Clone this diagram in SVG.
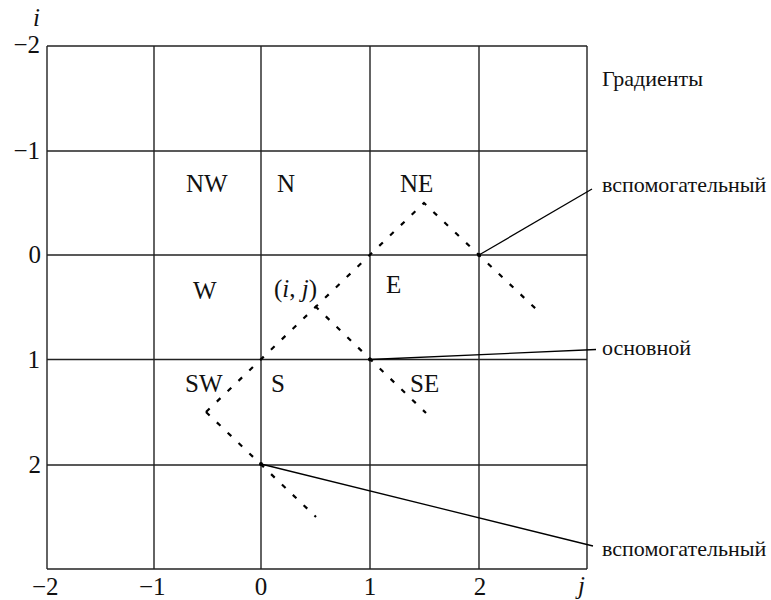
<svg xmlns="http://www.w3.org/2000/svg" width="771" height="600" viewBox="0 0 771 600">
<style>
text { font-family: "Liberation Serif", "Times New Roman", serif; fill: #111; }
.lbl { font-size: 25px; }
.ax { font-size: 25px; }
.ru { font-size: 22px; }
.it { font-style: italic; }
.grid line { stroke: #222; stroke-width: 1.4; }
.dash { stroke: #000; stroke-width: 2.2; stroke-dasharray: 5 10; fill: none; }
.lead { stroke: #000; stroke-width: 1.3; fill: none; }
</style>
<rect width="771" height="600" fill="#fff"/>
<g id="grid" class="grid">
  <line x1="47" y1="46" x2="587" y2="46"/>
  <line x1="47" y1="151" x2="587" y2="151"/>
  <line x1="47" y1="255" x2="587" y2="255"/>
  <line x1="47" y1="359.5" x2="587" y2="359.5"/>
  <line x1="47" y1="465" x2="587" y2="465"/>
  <line x1="47" y1="569" x2="587" y2="569"/>
  <line x1="47" y1="46" x2="47" y2="569"/>
  <line x1="154" y1="46" x2="154" y2="569"/>
  <line x1="261" y1="46" x2="261" y2="569"/>
  <line x1="370" y1="46" x2="370" y2="569"/>
  <line x1="479" y1="46" x2="479" y2="569"/>
  <line x1="587" y1="46" x2="587" y2="569"/>
</g>
<g id="axes">
  <text class="ax it" x="33" y="26">i</text>
  <text class="ax" x="40" y="53" text-anchor="end">−2</text>
  <text class="ax" x="40" y="159" text-anchor="end">−1</text>
  <text class="ax" x="41" y="263" text-anchor="end">0</text>
  <text class="ax" x="40" y="368" text-anchor="end">1</text>
  <text class="ax" x="41" y="473" text-anchor="end">2</text>
  <text class="ax" x="32" y="595">−2</text>
  <text class="ax" x="139" y="595">−1</text>
  <text class="ax" x="261" y="595" text-anchor="middle">0</text>
  <text class="ax" x="370" y="595" text-anchor="middle">1</text>
  <text class="ax" x="480" y="595" text-anchor="middle">2</text>
  <text class="ax it" x="578" y="594">j</text>
</g>
<g id="cells">
  <text id="NW" class="lbl" x="186" y="192">NW</text>
  <text id="N" class="lbl" x="277" y="192">N</text>
  <text id="NE" class="lbl" x="400" y="192">NE</text>
  <text id="W" class="lbl" x="193" y="299">W</text>
  <text id="ij" class="lbl" x="274" y="297">(<tspan class="it">i</tspan>, <tspan class="it">j</tspan>)</text>
  <text id="E" class="lbl" x="386" y="293">E</text>
  <text id="SW" class="lbl" x="185" y="392">SW</text>
  <text id="S" class="lbl" x="271" y="392">S</text>
  <text id="SE" class="lbl" x="410" y="392">SE</text>
</g>
<g id="connectors">
  <polyline class="dash" points="206,412 424,203 536,309"/>
  <polyline class="dash" points="206,412 316,517"/>
  <polyline class="dash" points="315,306 426,413"/>
  <line class="lead" x1="479" y1="255" x2="592" y2="189"/>
  <line class="lead" x1="370" y1="359.5" x2="596" y2="349.5"/>
  <line class="lead" x1="261" y1="464" x2="593" y2="546"/>
  <circle cx="479" cy="255" r="2"/>
  <circle cx="370" cy="359.5" r="2"/>
  <circle cx="261" cy="464" r="2"/>
</g>
<g id="labels">
  <text id="grad" class="ru" x="602" y="86">Градиенты</text>
  <text id="aux1" class="ru" x="602" y="192">вспомогательный</text>
  <text id="main" class="ru" x="602" y="355">основной</text>
  <text id="aux2" class="ru" x="602" y="556">вспомогательный</text>
</g>
</svg>
